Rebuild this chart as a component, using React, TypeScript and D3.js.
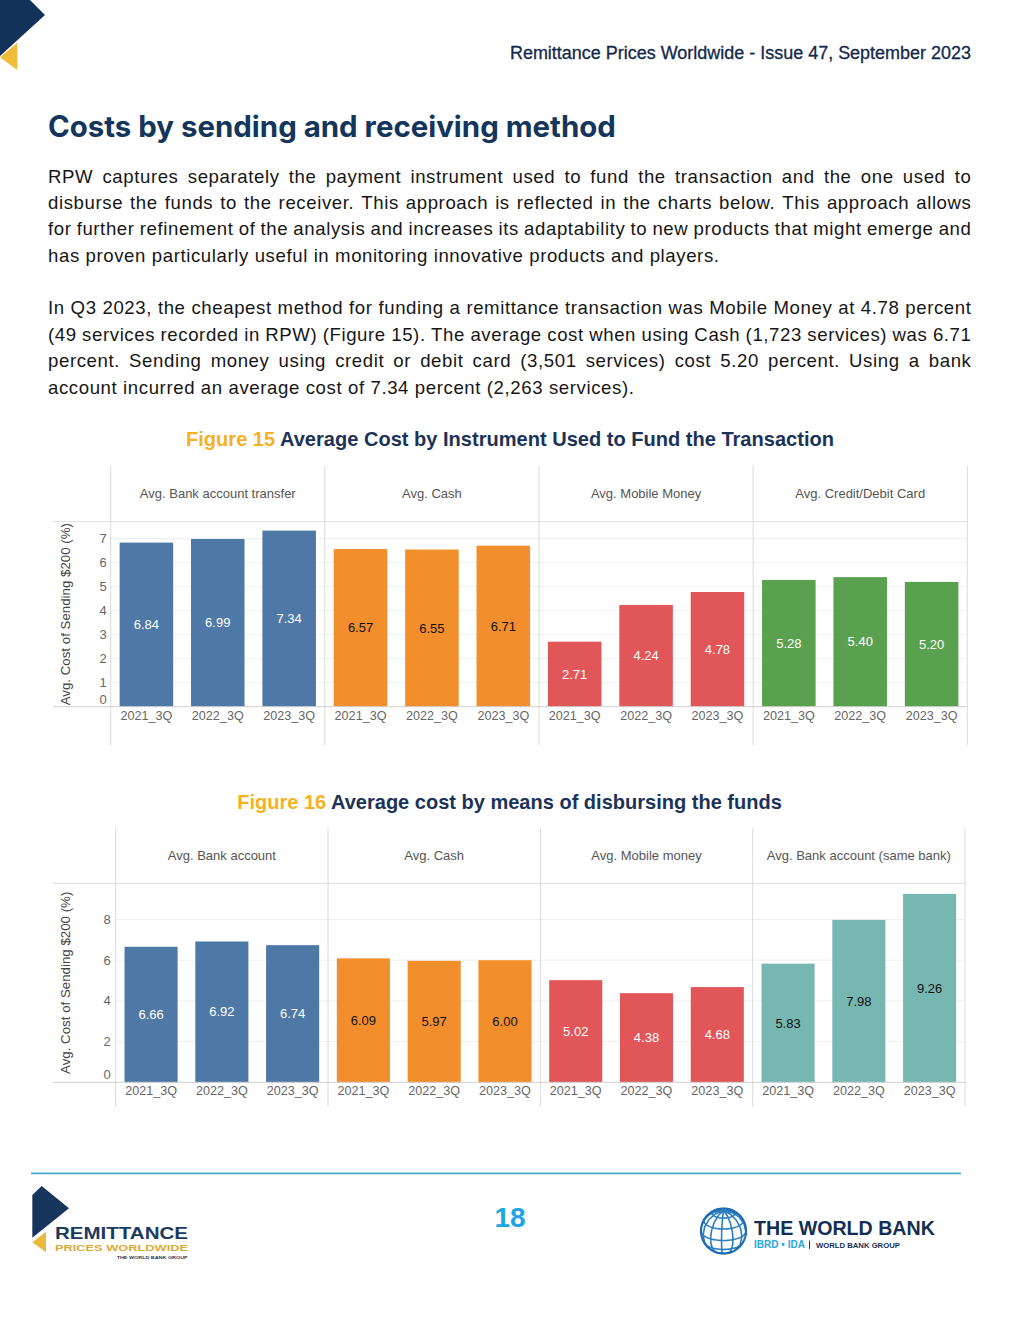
import React, { useEffect, useRef } from 'react';
import * as d3 from 'd3';

const years = ['2021_3Q', '2022_3Q', '2023_3Q'];

// Figure 15 - funding instrument
const fundGroups = ['Avg. Bank account transfer', 'Avg. Cash', 'Avg. Mobile Money', 'Avg. Credit/Debit Card'];
const fundValues = [
  [6.84, 6.99, 7.34],
  [6.57, 6.55, 6.71],
  [2.71, 4.24, 4.78],
  [5.28, 5.4, 5.2],
];
const fundTicks = [0, 1, 2, 3, 4, 5, 6, 7];

// Figure 16 - disbursing method
const disburseGroups = ['Avg. Bank account', 'Avg. Cash', 'Avg. Mobile money', 'Avg. Bank account (same bank)'];
const disburseValues = [
  [6.66, 6.92, 6.74],
  [6.09, 5.97, 6.0],
  [5.02, 4.38, 4.68],
  [5.83, 7.98, 9.26],
];
const disburseTicks = [0, 2, 4, 6, 8];

const yTitle = 'Avg. Cost of Sending $200 (%)';

const para1 = [
  'RPW captures separately the payment instrument used to fund the transaction and the one used to',
  'disburse the funds to the receiver. This approach is reflected in the charts below. This approach allows',
  'for further refinement of the analysis and increases its adaptability to new products that might emerge and',
  'has proven particularly useful in monitoring innovative products and players.',
];
const para2 = [
  'In Q3 2023, the cheapest method for funding a remittance transaction was Mobile Money at 4.78 percent',
  '(49 services recorded in RPW) (Figure 15). The average cost when using Cash (1,723 services) was 6.71',
  'percent. Sending money using credit or debit card (3,501 services) cost 5.20 percent. Using a bank',
  'account incurred an average cost of 7.34 percent (2,263 services).',
];

const ARIAL = "'Liberation Sans', Arial, sans-serif";
const NAVY = '#1c3358';
const GOLD = '#f4b223';

const fundColors = ['#4e79a7', '#f28e2b', '#e15759', '#59a14f'];
const fundLabelColors = ['#fff', '#111', '#fff', '#fff'];
const disburseColors = ['#4e79a7', '#f28e2b', '#e15759', '#76b7b2'];
const disburseLabelColors = ['#fff', '#111', '#fff', '#111'];

type Sel = d3.Selection<any, any, any, any>;

function fitWidth(sel: Sel, target: number) {
  const node = sel.node() as SVGTextElement;
  const w = node.getComputedTextLength();
  const fs = parseFloat(sel.attr('font-size'));
  if (w > 0) sel.attr('font-size', (fs * target) / w);
}

interface ChartLayout {
  left: number;
  panelLeft: number;
  panelRight: number;
  top: number;
  headerBottom: number;
  base: number;
  bottom: number;
  yMax: number;
  tickRight: number;
}

function drawChart(
  svg: Sel,
  groups: string[],
  values: number[][],
  colors: string[],
  labelColors: string[],
  ticks: number[],
  L: ChartLayout
) {
  const g = svg.append('g');
  const outer = d3.scaleBand<string>().domain(groups).range([L.panelLeft, L.panelRight]);
  const inner = d3
    .scaleBand<string>()
    .domain(years)
    .range([0, outer.bandwidth()])
    .paddingInner(0.25)
    .paddingOuter(0.125);
  const y = d3.scaleLinear().domain([0, L.yMax]).range([L.base, L.headerBottom]);

  // gridlines
  g.selectAll('line.grid')
    .data(ticks.filter(t => t > 0))
    .join('line')
    .attr('x1', L.panelLeft)
    .attr('x2', L.panelRight)
    .attr('y1', d => y(d))
    .attr('y2', d => y(d))
    .attr('stroke', '#efefef');

  // header line
  g.append('line')
    .attr('x1', L.left).attr('x2', L.panelRight)
    .attr('y1', L.headerBottom).attr('y2', L.headerBottom)
    .attr('stroke', '#dedede');

  // panel dividers
  const edges = [...groups.map(d => outer(d) as number), L.panelRight];
  g.selectAll('line.div')
    .data(edges)
    .join('line')
    .attr('x1', d => d).attr('x2', d => d)
    .attr('y1', L.top).attr('y2', L.bottom)
    .attr('stroke', '#dadada');

  // headers
  g.selectAll('text.head')
    .data(groups)
    .join('text')
    .attr('x', d => (outer(d) as number) + outer.bandwidth() / 2)
    .attr('y', (L.top + L.headerBottom) / 2)
    .attr('dy', '0.35em')
    .attr('text-anchor', 'middle')
    .attr('font-family', ARIAL)
    .attr('font-size', 13)
    .attr('fill', '#555')
    .text(d => d);

  // bars
  groups.forEach((grp, gi) => {
    const gx = outer(grp) as number;
    const pg = g.append('g').attr('transform', `translate(${gx},0)`);
    pg.selectAll('rect')
      .data(values[gi])
      .join('rect')
      .attr('x', (_, i) => inner(years[i]) as number)
      .attr('width', inner.bandwidth())
      .attr('y', d => y(d))
      .attr('height', d => L.base - y(d))
      .attr('fill', colors[gi]);
    pg.selectAll('text.val')
      .data(values[gi])
      .join('text')
      .attr('x', (_, i) => (inner(years[i]) as number) + inner.bandwidth() / 2)
      .attr('y', d => (y(d) + L.base) / 2)
      .attr('dy', '0.35em')
      .attr('text-anchor', 'middle')
      .attr('font-family', ARIAL)
      .attr('font-size', 13)
      .attr('fill', labelColors[gi])
      .text(d => d.toFixed(2));
    pg.selectAll('text.yr')
      .data(years)
      .join('text')
      .attr('x', d => (inner(d) as number) + inner.bandwidth() / 2)
      .attr('y', L.base + 13)
      .attr('text-anchor', 'middle')
      .attr('font-family', ARIAL)
      .attr('font-size', 12.6)
      .attr('fill', '#666')
      .text(d => d);
  });

  // baseline
  g.append('line')
    .attr('x1', L.left).attr('x2', L.panelRight)
    .attr('y1', L.base).attr('y2', L.base)
    .attr('stroke', '#cfcfcf');

  // y ticks
  g.selectAll('text.tick')
    .data(ticks)
    .join('text')
    .attr('x', L.tickRight)
    .attr('y', d => Math.min(y(d), L.base - 7.5))
    .attr('dy', '0.35em')
    .attr('text-anchor', 'end')
    .attr('font-family', ARIAL)
    .attr('font-size', 13)
    .attr('fill', '#666')
    .text(d => d);

  // y title
  const cy = (L.headerBottom + L.base) / 2;
  g.append('text')
    .attr('transform', `translate(65,${cy}) rotate(-90)`)
    .attr('dy', '0.35em')
    .attr('text-anchor', 'middle')
    .attr('font-family', ARIAL)
    .attr('font-size', 13.3)
    .attr('fill', '#444')
    .text(yTitle);
}

function drawParagraph(svg: Sel, lines: string[], firstBaseline: number) {
  const left = 48;
  const right = 971.5;
  const ls = 0.6;
  lines.forEach((line, li) => {
    const t = svg
      .append('text')
      .attr('y', firstBaseline + li * 26.4)
      .attr('font-family', ARIAL)
      .attr('font-size', 18.6)
      .attr('letter-spacing', ls)
      .attr('fill', '#161616');
    const words = line.split(' ');
    const spans = words.map(w => t.append('tspan').text(w));
    const widths = spans.map(s => (s.node() as SVGTSpanElement).getComputedTextLength());
    const last = li === lines.length - 1;
    const total = d3.sum(widths);
    let gap = last ? 18.6 * 0.278 + ls : (right - left - total) / (words.length - 1);
    let scale = 1;
    if (gap < 2.5) {
      // too long: squeeze the words a little
      gap = 2.5;
      scale = (right - left - gap * (words.length - 1)) / total;
    }
    let x = left;
    spans.forEach((s, i) => {
      s.attr('x', x);
      if (scale !== 1) s.attr('textLength', widths[i] * scale).attr('lengthAdjust', 'spacingAndGlyphs');
      x += widths[i] * scale + gap;
    });
  });
}

function drawTitle(svg: Sel, fig: string, rest: string, baseline: number, x0: number, x1: number) {
  const t = svg
    .append('text')
    .attr('x', (x0 + x1) / 2)
    .attr('y', baseline)
    .attr('text-anchor', 'middle')
    .attr('font-family', ARIAL)
    .attr('font-weight', 'bold')
    .attr('font-size', 18.6);
  t.append('tspan').attr('fill', GOLD).text(fig);
  t.append('tspan').attr('fill', NAVY).text(' ' + rest);
  fitWidth(t, x1 - x0);
}

const App: React.FC = () => {
  const svgRef = useRef<SVGSVGElement | null>(null);

  useEffect(() => {
    const svg = d3.select(svgRef.current);
    svg.selectAll('*').remove();

    svg.append('rect').attr('width', 1020).attr('height', 1320).attr('fill', '#fff');

    // top-left corner mark
    svg.append('polygon').attr('points', '0,0 30,0 45,15 0,56').attr('fill', '#13325a');
    svg.append('polygon').attr('points', '17.3,42.7 0,57.3 17.3,70').attr('fill', '#eebd3a');

    // running header
    const hdr = svg
      .append('text')
      .attr('x', 971)
      .attr('y', 59)
      .attr('text-anchor', 'end')
      .attr('font-family', ARIAL)
      .attr('font-size', 16.3)
      .attr('fill', '#14284a')
      .attr('stroke', '#14284a')
      .attr('stroke-width', 0.3)
      .text('Remittance Prices Worldwide - Issue 47, September 2023');
    fitWidth(hdr, 461);

    // heading
    const h = svg
      .append('text')
      .attr('x', 48)
      .attr('y', 136.7)
      .attr('font-family', "Inter, 'Liberation Sans', sans-serif")
      .attr('font-weight', 'bold')
      .attr('font-size', 27.5)
      .attr('fill', '#14365c')
      .text('Costs by sending and receiving method');
    fitWidth(h, 568);

    drawParagraph(svg, para1, 182.6);
    drawParagraph(svg, para2, 314.4);

    drawTitle(svg, 'Figure 15', 'Average Cost by Instrument Used to Fund the Transaction', 445.7, 186, 834);
    drawChart(svg, fundGroups, fundValues, fundColors, fundLabelColors, fundTicks, {
      left: 52.7,
      panelLeft: 110.7,
      panelRight: 967.3,
      top: 466,
      headerBottom: 521.7,
      base: 706.7,
      bottom: 745,
      yMax: 7.71,
      tickRight: 106.7,
    });

    drawTitle(svg, 'Figure 16', 'Average cost by means of disbursing the funds', 808.5, 237, 782);
    drawChart(svg, disburseGroups, disburseValues, disburseColors, disburseLabelColors, disburseTicks, {
      left: 52.7,
      panelLeft: 115.7,
      panelRight: 965,
      top: 828.3,
      headerBottom: 883.3,
      base: 1082.3,
      bottom: 1106.7,
      yMax: 9.78,
      tickRight: 110.7,
    });

    // footer rule
    svg.append('line')
      .attr('x1', 31).attr('x2', 961)
      .attr('y1', 1173.3).attr('y2', 1173.3)
      .attr('stroke', '#45a9c9')
      .attr('stroke-width', 1.8);

    // page number
    svg.append('text')
      .attr('x', 510)
      .attr('y', 1227)
      .attr('text-anchor', 'middle')
      .attr('font-family', ARIAL)
      .attr('font-weight', 'bold')
      .attr('font-size', 28)
      .attr('fill', '#1ea5e3')
      .text('18');

    // RPW logo
    svg.append('polygon').attr('points', '32.3,1195 41.7,1186 69,1208.3 32.3,1237.7').attr('fill', '#17365d');
    svg.append('polygon').attr('points', '46,1231.7 32.3,1242.3 46,1252.3').attr('fill', '#e8b93c');
    svg.append('text')
      .attr('x', 55).attr('y', 1239.3)
      .attr('font-family', ARIAL).attr('font-weight', 'bold').attr('font-size', 16.5)
      .attr('textLength', 133).attr('lengthAdjust', 'spacingAndGlyphs')
      .attr('fill', '#1b3a5f').text('REMITTANCE');
    svg.append('text')
      .attr('x', 55).attr('y', 1251.3)
      .attr('font-family', ARIAL).attr('font-weight', 'bold').attr('font-size', 9.8)
      .attr('textLength', 133).attr('lengthAdjust', 'spacingAndGlyphs')
      .attr('fill', '#d8ab3a').text('PRICES WORLDWIDE');
    svg.append('text')
      .attr('x', 116.7).attr('y', 1258.8)
      .attr('font-family', ARIAL).attr('font-weight', 'bold').attr('font-size', 4.3)
      .attr('textLength', 71).attr('lengthAdjust', 'spacingAndGlyphs')
      .attr('fill', '#1b3a5f').text('THE WORLD BANK GROUP');

    // World Bank logo
    const proj = d3.geoOrthographic().scale(22.5).translate([723.5, 1231]).rotate([25, -25]);
    const path = d3.geoPath(proj);
    svg.append('path')
      .datum(d3.geoGraticule().step([30, 30])())
      .attr('d', path as any)
      .attr('fill', 'none')
      .attr('stroke', '#2a7fc1')
      .attr('stroke-width', 1.6);
    svg.append('path')
      .datum({ type: 'Sphere' } as any)
      .attr('d', path as any)
      .attr('fill', 'none')
      .attr('stroke', '#1f6cb2')
      .attr('stroke-width', 2.2);
    const w1 = svg.append('text')
      .attr('x', 754).attr('y', 1234.5)
      .attr('font-family', ARIAL).attr('font-weight', 'bold').attr('font-size', 20)
      .attr('fill', '#142f55').text('THE WORLD BANK');
    fitWidth(w1, 181);
    const w2 = svg.append('text')
      .attr('x', 754).attr('y', 1248.3)
      .attr('font-family', ARIAL).attr('font-weight', 'bold').attr('font-size', 9)
      .attr('fill', '#2aa6df').text('IBRD • IDA');
    fitWidth(w2, 51);
    svg.append('line')
      .attr('x1', 809.5).attr('x2', 809.5)
      .attr('y1', 1240.5).attr('y2', 1249)
      .attr('stroke', '#142f55').attr('stroke-width', 0.9);
    const w3 = svg.append('text')
      .attr('x', 816).attr('y', 1248.3)
      .attr('font-family', ARIAL).attr('font-weight', 'bold').attr('font-size', 8)
      .attr('fill', '#142f55').text('WORLD BANK GROUP');
    fitWidth(w3, 84);
  }, []);

  return (
    <svg
      ref={svgRef}
      width={1020}
      height={1320}
      style={{ position: 'absolute', left: 0, top: 0, display: 'block' }}
    />
  );
};

export default App;
